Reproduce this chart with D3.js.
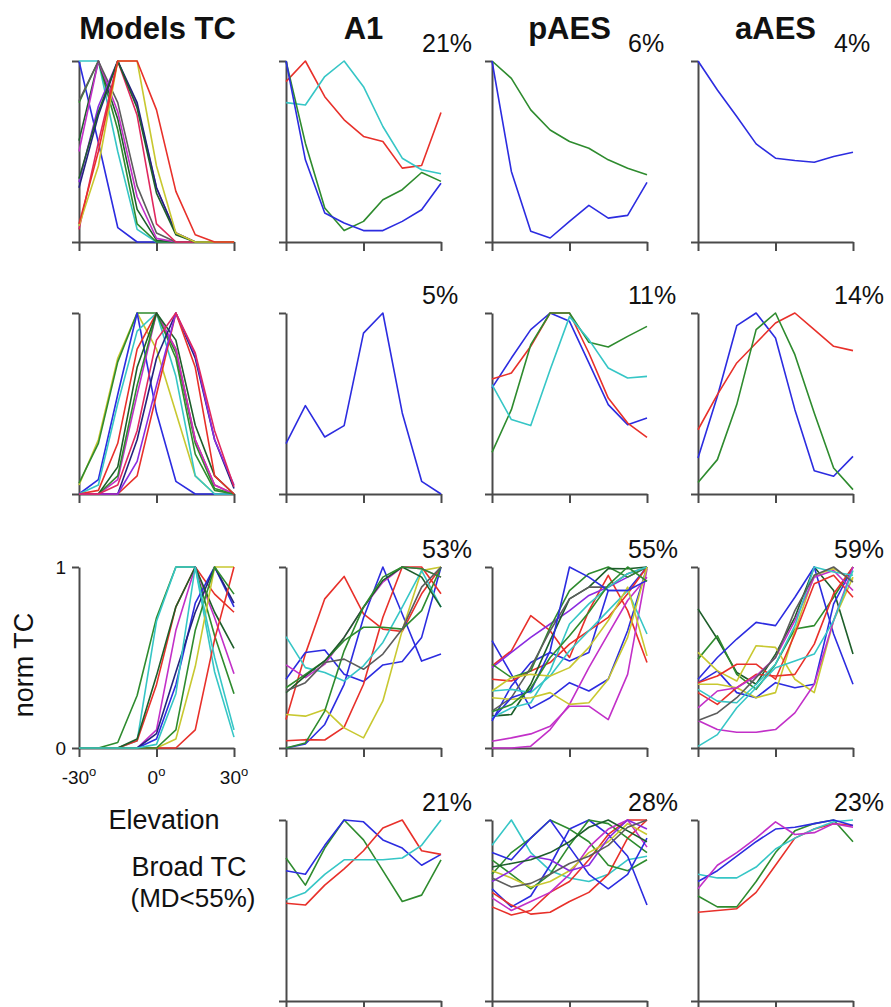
<!DOCTYPE html>
<html>
<head>
<meta charset="utf-8">
<script src="https://cdn.jsdelivr.net/npm/d3@7/dist/d3.min.js"></script>
<style>
  body { margin: 0; background: #fff; }
  text { font-family: "Liberation Sans", Arial, sans-serif; fill: #111; }
</style>
</head>
<body>
<svg id="chart" width="891" height="1007"></svg>
<script>
// elevation sample points (deg)
const elev = [-30, -22.5, -15, -7.5, 0, 7.5, 15, 22.5, 30];
const colTitles = ["Models TC", "A1", "pAES", "aAES"];
const xTicks = [-30, 0, 30];
const yTicks = [0, 1];

// percentages per row (A1, pAES, aAES)
const pctRow1 = ["21%", "6%", "4%"];
const pctRow2 = ["5%", "11%", "14%"];
const pctRow3 = ["53%", "55%", "59%"];
const pctRow4 = ["21%", "28%", "23%"];

// --- model tuning curves ---
const models1 = [
  [1, 0.55, 0.08, 0, 0, 0, 0, 0, 0],
  [1, 1, 0.5, 0.07, 0, 0, 0, 0, 0],
  [0.77, 1, 0.62, 0.1, 0, 0, 0, 0, 0],
  [0.56, 1, 0.68, 0.18, 0.01, 0, 0, 0, 0],
  [0.5, 1, 0.72, 0.25, 0.02, 0, 0, 0, 0],
  [0.78, 1, 0.77, 0.31, 0.05, 0, 0, 0, 0],
  [0.33, 0.75, 1, 0.75, 0.3, 0.05, 0, 0, 0],
  [0.07, 0.55, 1, 0.7, 0.1, 0, 0, 0, 0],
  [0.3, 0.7, 1, 0.77, 0.3, 0.05, 0, 0, 0],
  [0.35, 0.72, 1, 0.74, 0.27, 0.04, 0, 0, 0],
  [0.09, 0.42, 1, 1, 0.42, 0.05, 0, 0, 0],
  [0.1, 0.5, 1, 1, 0.73, 0.28, 0.04, 0, 0]
];
const models1Col = ["b", "c", "g", "d", "m", "k", "p", "pk", "n", "d", "y", "r"];

const models2 = [
  [0.05, 0.3, 0.75, 1, 0.8, 0.45, 0.1, 0, 0],
  [0.06, 0.28, 0.73, 1, 1, 0.78, 0.28, 0.03, 0],
  [0, 0.08, 0.55, 1, 0.45, 0.07, 0, 0, 0],
  [0, 0.05, 0.5, 0.9, 1, 0.65, 0.1, 0, 0],
  [0, 0.02, 0.28, 0.8, 1, 0.8, 0.3, 0.05, 0],
  [0, 0, 0.08, 0.55, 1, 0.8, 0.3, 0.05, 0],
  [0, 0, 0.1, 0.6, 1, 0.75, 0.22, 0.02, 0],
  [0, 0, 0.15, 0.7, 1, 0.85, 0.38, 0.1, 0],
  [0, 0, 0, 0.3, 0.75, 1, 0.75, 0.3, 0.03],
  [0, 0, 0, 0.1, 0.55, 1, 0.7, 0.1, 0],
  [0, 0, 0, 0.18, 0.6, 1, 0.77, 0.3, 0.05],
  [0, 0, 0.05, 0.35, 0.85, 1, 0.78, 0.35, 0.04]
];
const models2Col = ["y", "g", "b", "c", "r", "m", "g", "d", "n", "r", "p", "pk"];

const models3 = [
  [0, 0, 0.03, 0.29, 0.72, 1, 1, 0.62, 0.3],
  [0, 0, 0, 0.04, 0.7, 1, 1, 0.42, 0.06],
  [0, 0, 0, 0.04, 0.35, 0.78, 1, 0.85, 0.75],
  [0, 0, 0, 0, 0.1, 0.65, 1, 0.72, 0.41],
  [0, 0, 0, 0, 0.05, 0.35, 0.8, 1, 0.78],
  [0, 0, 0, 0, 0.08, 0.42, 0.75, 1, 0.8],
  [0, 0, 0, 0.05, 0.4, 0.78, 1, 0.75, 0.55],
  [0, 0, 0, 0, 0, 0.05, 0.45, 1, 1],
  [0, 0, 0, 0, 0, 0, 0.1, 0.6, 1],
  [0, 0, 0, 0, 0, 0.1, 0.65, 1, 0.85],
  [0, 0, 0, 0, 0.02, 0.3, 1, 0.5, 0.1]
];
const models3Col = ["g", "c", "r", "m", "b", "n", "d", "y", "r", "g", "c"];

// --- A1 ---
const a1Row1 = [
  [0.886, 1.0, 0.803, 0.675, 0.583, 0.555, 0.408, 0.423, 0.715],
  [0.77, 0.757, 0.914, 1.0, 0.858, 0.638, 0.463, 0.399, 0.377],
  [1.0, 0.546, 0.188, 0.063, 0.114, 0.233, 0.289, 0.384, 0.335],
  [1.0, 0.454, 0.16, 0.105, 0.063, 0.063, 0.114, 0.178, 0.325]
];
const a1Row1Col = ["r", "c", "g", "b"];

const a1Row2 = [
  [0.278, 0.488, 0.315, 0.378, 0.889, 1.0, 0.448, 0.07, 0]
];
const a1Row2Col = ["b"];

const a1Row3 = [
  [0.157, 0.52, 0.824, 0.948, 0.741, 0.657, 0.644, 0.852, 1],
  [0.38, 0.528, 0.541, 0.407, 0.367, 0.459, 0.478, 0.611, 1],
  [0, 0.022, 0.13, 0.352, 0.72, 1, 0.74, 0.48, 0.52],
  [0.04, 0.046, 0.044, 0.115, 0.352, 0.722, 1, 1, 0.852],
  [0.185, 0.176, 0.213, 0.111, 0.056, 0.26, 0.65, 0.98, 1],
  [0.615, 0.444, 0.417, 0.37, 0.454, 0.583, 0.778, 0.98, 0.778],
  [0.459, 0.389, 0.463, 0.611, 0.778, 0.917, 1, 0.99, 0.944],
  [0.333, 0.407, 0.481, 0.593, 0.667, 0.667, 0.657, 0.759, 1],
  [0.306, 0.398, 0.481, 0.611, 0.778, 0.926, 1, 0.944, 0.778],
  [0, 0.028, 0.204, 0.537, 0.778, 0.944, 1, 0.99, 0.944],
  [0.315, 0.361, 0.472, 0.491, 0.435, 0.519, 0.657, 0.889, 1]
];
const a1Row3Col = ["r", "b", "b", "r", "y", "c", "m", "g", "d", "g", "k"];

const a1Row4 = [
  [0.79, 0.64, 0.845, 1, 0.89, 0.72, 0.55, 0.585, 0.78],
  [0.72, 0.7, 0.86, 1, 0.99, 0.89, 0.845, 0.75, 0.81],
  [0.54, 0.53, 0.64, 0.73, 0.83, 0.956, 1, 0.83, 0.81],
  [0.56, 0.6, 0.7, 0.78, 0.78, 0.78, 0.79, 0.86, 1]
];
const a1Row4Col = ["g", "b", "r", "c"];

// --- pAES ---
const paesRow1 = [
  [1.0, 0.904, 0.73, 0.619, 0.555, 0.518, 0.454, 0.408, 0.371],
  [1.0, 0.39, 0.059, 0.022, 0.114, 0.202, 0.132, 0.147, 0.329]
];
const paesRow1Col = ["g", "b"];

const paesRow2 = [
  [0.586, 0.751, 0.908, 1, 0.954, 0.724, 0.494, 0.383, 0.42],
  [0.635, 0.668, 0.816, 1, 1, 0.779, 0.53, 0.392, 0.313],
  [0.23, 0.466, 0.825, 1, 1, 0.838, 0.812, 0.871, 0.926],
  [0.604, 0.411, 0.378, 0.687, 0.98, 0.853, 0.696, 0.641, 0.65]
];
const paesRow2Col = ["b", "r", "g", "c"];

const paesRow3 = [
  [0.593, 0.407, 0.219, 0.278, 0.361, 0.315, 0.38, 0.648, 1],
  [0.148, 0.343, 0.472, 0.528, 0.481, 0.528, 0.87, 0.87, 1],
  [0.454, 0.537, 0.731, 0.648, 0.5, 0.759, 0.954, 0.759, 0.472],
  [0.38, 0.37, 0.426, 0.472, 0.574, 0.648, 0.722, 0.852, 1],
  [0.037, 0.056, 0.078, 0.12, 0.231, 0.231, 0.157, 0.407, 0.99],
  [0, 0, 0.01, 0.102, 0.241, 0.444, 0.63, 0.815, 0.944],
  [0.444, 0.528, 0.611, 0.685, 0.759, 0.843, 0.889, 0.944, 1],
  [0.463, 0.389, 0.426, 0.667, 0.87, 0.963, 1, 0.944, 1],
  [0.176, 0.185, 0.352, 0.593, 0.824, 0.889, 0.991, 0.99, 1],
  [0.204, 0.278, 0.444, 0.648, 0.824, 0.889, 0.889, 0.963, 1],
  [0.167, 0.222, 0.25, 0.426, 0.685, 0.796, 0.889, 0.963, 1],
  [0.315, 0.324, 0.306, 0.398, 0.537, 0.648, 0.759, 0.87, 0.63],
  [0.315, 0.389, 0.407, 0.398, 0.444, 0.556, 0.704, 0.889, 0.509],
  [0.278, 0.269, 0.278, 0.306, 0.241, 0.25, 0.38, 0.611, 1],
  [0.157, 0.278, 0.315, 0.537, 1, 0.944, 0.87, 0.87, 0.926],
  [0.2, 0.24, 0.33, 0.5, 0.62, 0.75, 0.9, 1, 0.92]
];
const paesRow3Col = ["b", "b", "r", "r", "m", "m", "p", "g", "d", "k", "c", "c", "y", "y", "b", "g"];

const paesRow4 = [
  [0.86, 1.0, 0.82, 0.72, 0.68, 0.66, 0.7, 0.78, 0.8],
  [0.62, 0.52, 0.58, 0.75, 0.95, 1.0, 0.92, 0.8, 0.53],
  [0.52, 0.475, 0.5, 0.6, 0.66, 0.78, 0.92, 1.0, 1.0],
  [0.6, 0.53, 0.48, 0.49, 0.55, 0.6, 0.7, 0.9, 1.0],
  [0.7, 0.82, 0.9, 1.0, 0.95, 0.88, 0.75, 0.72, 0.78],
  [0.78, 0.7, 0.62, 0.7, 0.86, 1.0, 0.98, 0.9, 0.82],
  [0.57, 0.5, 0.55, 0.6, 0.7, 0.85, 0.95, 1.0, 0.85],
  [0.72, 0.68, 0.63, 0.66, 0.72, 0.82, 0.88, 0.98, 0.92],
  [0.82, 0.78, 0.9, 1.0, 0.85, 0.7, 0.62, 0.7, 0.9],
  [0.66, 0.72, 0.8, 0.78, 0.72, 0.75, 0.9, 1.0, 0.95],
  [0.74, 0.76, 0.78, 0.82, 0.88, 0.96, 1.0, 0.94, 0.88],
  [0.68, 0.63, 0.65, 0.7, 0.76, 0.8, 0.86, 0.96, 1.0]
];
const paesRow4Col = ["c", "b", "r", "r", "g", "g", "m", "y", "b", "p", "d", "k"];

// --- aAES ---
const aaesRow1 = [
  [1.0, 0.84, 0.693, 0.542, 0.463, 0.45, 0.441, 0.472, 0.496]
];
const aaesRow1Col = ["b"];

const aaesRow2 = [
  [0.199, 0.54, 0.93, 1, 0.862, 0.466, 0.129, 0.098, 0.208],
  [0.355, 0.549, 0.724, 0.834, 0.945, 1, 0.908, 0.816, 0.792],
  [0.064, 0.19, 0.494, 0.908, 1, 0.77, 0.448, 0.144, 0.024]
];
const aaesRow2Col = ["b", "r", "g"];

const aaesRow3 = [
  [0.769, 0.602, 0.417, 0.352, 0.519, 0.722, 1, 0.87, 0.519],
  [0.491, 0.62, 0.407, 0.324, 0.463, 0.657, 0.676, 0.833, 1],
  [0.38, 0.5, 0.602, 0.694, 0.676, 0.833, 1, 0.63, 0.352],
  [0.361, 0.426, 0.306, 0.278, 0.361, 0.333, 0.352, 0.796, 1],
  [0.528, 0.426, 0.37, 0.565, 0.556, 0.38, 0.306, 0.704, 0.944],
  [0.352, 0.352, 0.333, 0.278, 0.306, 0.648, 0.954, 0.991, 0.926],
  [0.306, 0.241, 0.333, 0.407, 0.398, 0.407, 0.574, 0.852, 1],
  [0.361, 0.398, 0.463, 0.463, 0.38, 0.63, 0.907, 0.954, 0.833],
  [0.152, 0.102, 0.087, 0.087, 0.102, 0.194, 0.352, 0.704, 1],
  [0.222, 0.315, 0.333, 0.398, 0.5, 0.704, 0.944, 0.981, 0.87],
  [0.009, 0.074, 0.222, 0.333, 0.444, 0.481, 0.519, 0.704, 0.981],
  [0.324, 0.259, 0.25, 0.352, 0.463, 0.676, 1, 0.972, 0.954],
  [0.152, 0.194, 0.278, 0.389, 0.5, 0.759, 0.954, 1, 0.917]
];
const aaesRow3Col = ["d", "g", "b", "b", "y", "y", "r", "r", "m", "m", "c", "c", "k"];

const aaesRow4 = [
  [0.49, 0.5, 0.51, 0.6, 0.75, 0.9, 0.95, 0.98, 0.97],
  [0.58, 0.52, 0.52, 0.66, 0.82, 0.94, 0.98, 1.0, 0.88],
  [0.7, 0.68, 0.68, 0.74, 0.84, 0.9, 0.95, 0.99, 1.0],
  [0.66, 0.72, 0.8, 0.88, 0.95, 0.96, 0.98, 1.0, 0.97],
  [0.62, 0.75, 0.82, 0.9, 0.99, 0.92, 0.93, 0.98, 0.96]
];
const aaesRow4Col = ["r", "g", "c", "b", "m"];

const palette = {
  b: "#2c2ce0", n: "#23237e", g: "#2e8b2e", d: "#1d5e2a", r: "#e8302a",
  pk: "#e0285e", c: "#36c6c6", m: "#c230c8", p: "#8a2be0", y: "#c8c830", k: "#5c5c5c"
};

// layout
const colX = [79, 286, 492, 698];
const rowY = [61, 313, 567, 820];
const pw = 155, ph = 181;

const svg = d3.select("#chart");

const panels = [
  [0, 0, models1, models1Col, null],
  [1, 0, models2, models2Col, null],
  [2, 0, models3, models3Col, null],
  [0, 1, a1Row1, a1Row1Col, pctRow1[0]],
  [1, 1, a1Row2, a1Row2Col, pctRow2[0]],
  [2, 1, a1Row3, a1Row3Col, pctRow3[0]],
  [3, 1, a1Row4, a1Row4Col, pctRow4[0]],
  [0, 2, paesRow1, paesRow1Col, pctRow1[1]],
  [1, 2, paesRow2, paesRow2Col, pctRow2[1]],
  [2, 2, paesRow3, paesRow3Col, pctRow3[1]],
  [3, 2, paesRow4, paesRow4Col, pctRow4[1]],
  [0, 3, aaesRow1, aaesRow1Col, pctRow1[2]],
  [1, 3, aaesRow2, aaesRow2Col, pctRow2[2]],
  [2, 3, aaesRow3, aaesRow3Col, pctRow3[2]],
  [3, 3, aaesRow4, aaesRow4Col, pctRow4[2]]
];

panels.forEach(([row, col, series, cols, pct]) => {
  const x0 = colX[col], y0 = rowY[row];
  const x = d3.scaleLinear().domain([-30, 30]).range([x0, x0 + pw]);
  const y = d3.scaleLinear().domain([0, 1]).range([y0 + ph, y0]);
  const g = svg.append("g");

  const xa = g.append("g")
    .attr("transform", `translate(0,${y0 + ph})`)
    .call(d3.axisBottom(x).tickValues(xTicks).tickSize(9).tickSizeOuter(0).tickFormat(""));
  const ya = g.append("g")
    .attr("transform", `translate(${x0},0)`)
    .call(d3.axisLeft(y).tickValues(yTicks).tickSize(7).tickSizeOuter(0).tickFormat(""));
  [xa, ya].forEach(a => {
    a.selectAll("path,line").attr("stroke", "#4a4a4a").attr("stroke-width", 2);
  });

  const line = d3.line().x((d, i) => x(elev[i])).y(d => y(d));
  g.selectAll(".tc").data(series).join("path")
    .attr("class", "tc")
    .attr("d", line)
    .attr("fill", "none")
    .attr("stroke", (d, i) => palette[cols[i]])
    .attr("stroke-width", 1.6)
    .attr("stroke-linejoin", "round");

  if (pct) {
    svg.append("text").attr("x", x0 + 136).attr("y", y0 - 9)
      .style("font-size", "25px").text(pct);
  }

  // labelled axes on the bottom model panel
  if (row === 2 && col === 0) {
    yTicks.forEach(v => {
      svg.append("text").attr("x", x0 - 13).attr("y", y(v)).attr("dy", "0.36em")
        .attr("text-anchor", "end").style("font-size", "19px").text(v);
    });
    xTicks.forEach(v => {
      const t = svg.append("text").attr("x", x(v)).attr("y", y0 + ph + 36)
        .attr("text-anchor", "middle").style("font-size", "19px");
      t.append("tspan").text(v);
      t.append("tspan").attr("dy", -8).style("font-size", "13px").text("o");
    });
  }
});

colTitles.forEach((t, i) => {
  svg.append("text").attr("x", colX[i] + pw / 2 + (i === 0 ? 1 : 0)).attr("y", 39)
    .attr("text-anchor", "middle").style("font-size", "31px").style("font-weight", "bold").text(t);
});

svg.append("text").attr("transform", "translate(33,665) rotate(-90)")
  .attr("text-anchor", "middle").style("font-size", "27px").text("norm TC");
svg.append("text").attr("x", 164).attr("y", 829)
  .attr("text-anchor", "middle").style("font-size", "27px").text("Elevation");
svg.append("text").attr("x", 189).attr("y", 876)
  .attr("text-anchor", "middle").style("font-size", "27px").text("Broad TC");
svg.append("text").attr("x", 193).attr("y", 907)
  .attr("text-anchor", "middle").style("font-size", "26px").text("(MD<55%)");
</script>
</body>
</html>
